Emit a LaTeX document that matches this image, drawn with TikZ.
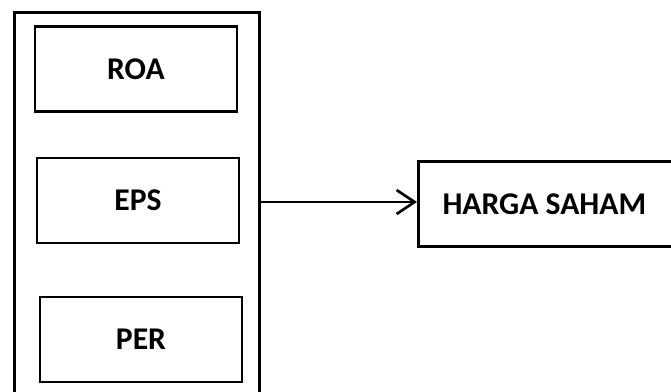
\documentclass[tikz,border=0pt]{standalone}
\usepackage{fontspec}
\setmainfont{Carlito}
\usetikzlibrary{positioning}
\usetikzlibrary{arrows.meta}
\tikzset{varbox/.style={draw,line width=1.9pt,minimum width=5.05cm,minimum height=2.13cm,
                        font=\fontsize{22.5}{26}\selectfont\bfseries,inner sep=0pt},
         groupbox/.style={draw,line width=2.1pt,minimum width=6.1cm,minimum height=9.9cm,inner sep=0pt},
         link/.style={line width=1.9pt,-{Straight Barb[length=4.5mm,width=6mm,line width=1.9pt]}},
         }

\begin{document}
\begin{tikzpicture}[x=0.025cm,y=-0.025cm]
		\useasboundingbox (0,0) rectangle (671,392);
		\clip (0,0) rectangle (671,392);
		\node[groupbox] (group) at (137,211) {};
		\node[varbox] (roa) at (136,69) {ROA};
		\node[varbox] (eps) at (138,200.5) {EPS};
		\node[varbox] (per) at (141,339.5) {PER};
		\node[varbox,minimum width=6.9cm,anchor=west] (harga) at (417,204) {\hspace*{-0.6cm}HARGA SAHAM};
		\coordinate (out) at (group.east |- 0,202);
		\draw[link] (out) -- (out -| harga.west);
\end{tikzpicture}
\end{document}
